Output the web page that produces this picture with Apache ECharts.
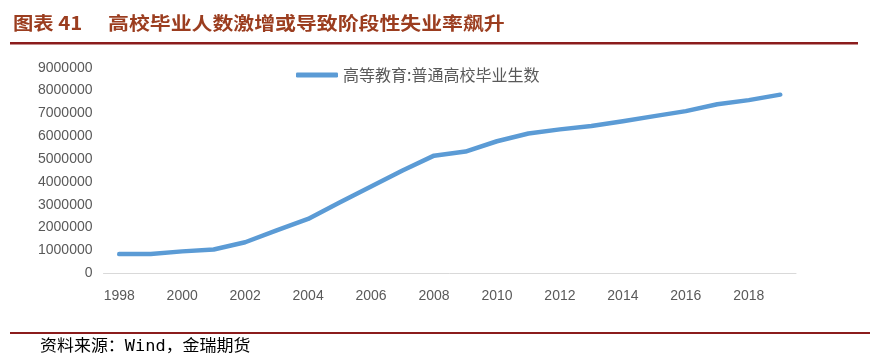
<!DOCTYPE html>
<html>
<head>
<meta charset="utf-8">
<script src="https://cdn.jsdelivr.net/npm/echarts@6/dist/echarts.min.js"></script>
<style>
html,body{margin:0;padding:0;background:#fff;}
#c{width:870px;height:363px;}
</style>
</head>
<body>
<div id="c"></div>
<script>
const titleLabel = '图表 41';
const titleText = '高校毕业人数激增或导致阶段性失业率飙升';
const sourceText = '资料来源：Wind，金瑞期货';
const seriesName = '高等教育:普通高校毕业生数';
const years = ['1998','1999','2000','2001','2002','2003','2004','2005','2006','2007','2008','2009','2010','2011','2012','2013','2014','2015','2016','2017','2018','2019'];
const graduates = [840000, 850000, 960000, 1040000, 1360000, 1880000, 2380000, 3100000, 3800000, 4500000, 5150000, 5330000, 5780000, 6120000, 6300000, 6450000, 6660000, 6880000, 7100000, 7400000, 7580000, 7820000];
const yTicks = {min: 0, max: 9000000, interval: 1000000};

const chart = echarts.init(document.getElementById('c'), null, {renderer: 'canvas'});
const titleFont = 'bold 18px "Noto Sans CJK SC", sans-serif';
chart.setOption({
  backgroundColor: '#ffffff',
  animation: false,
  graphic: [
    {type: 'text', x: 13, y: 14, scaleX: 1.13, style: {text: titleLabel, font: titleFont, fill: '#9b3d1f'}},
    {type: 'text', x: 108, y: 14, scaleX: 1.16, style: {text: titleText, font: titleFont, fill: '#9b3d1f'}},
    {type: 'rect', shape: {x: 10, y: 42, width: 848, height: 2.5}, style: {fill: '#8b1c1c'}},
    {type: 'rect', shape: {x: 10, y: 332, width: 860, height: 2}, style: {fill: '#8b1c1c'}},
    {type: 'text', x: 40, y: 339, scaleX: 1.06, style: {text: sourceText, font: '16px "DejaVu Sans Mono", "Noto Sans CJK SC", monospace', fill: '#000000'}}
  ],
  legend: {
    data: [{name: seriesName, icon: 'roundRect'}],
    left: 291,
    top: 62,
    itemWidth: 42,
    itemHeight: 5,
    textStyle: {fontFamily: '"Noto Sans CJK SC", sans-serif', fontSize: 16, color: '#595959'}
  },
  grid: {left: 103.5, right: 74, top: 67.7, bottom: 89.7, containLabel: false},
  xAxis: {
    type: 'category',
    data: years,
    boundaryGap: true,
    axisLine: {lineStyle: {color: '#d9d9d9', width: 1}},
    axisTick: {show: false},
    axisLabel: {
      interval: 1,
      color: '#595959',
      fontFamily: '"Liberation Sans", Arial, sans-serif',
      fontSize: 14,
      margin: 16
    }
  },
  yAxis: {
    type: 'value',
    min: yTicks.min,
    max: yTicks.max,
    interval: yTicks.interval,
    axisLine: {show: false},
    axisTick: {show: false},
    splitLine: {show: false},
    axisLabel: {
      color: '#595959',
      fontFamily: '"Liberation Sans", Arial, sans-serif',
      fontSize: 14,
      margin: 11,
      formatter: function (v) { return String(v); }
    }
  },
  series: [{
    name: seriesName,
    type: 'line',
    data: graduates,
    showSymbol: false,
    symbol: 'none',
    lineStyle: {color: '#5b9bd5', width: 4.5, cap: 'round', join: 'round'},
    itemStyle: {color: '#5b9bd5'}
  }]
});
</script>
</body>
</html>
